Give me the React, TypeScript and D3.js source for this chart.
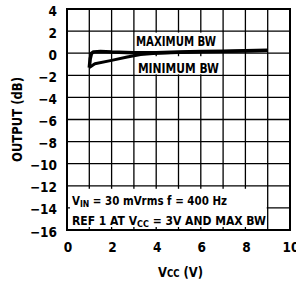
import React from "react";
import * as d3 from "d3";

const xTicks = [0, 2, 4, 6, 8, 10];
const yTicks = [4, 2, 0, -2, -4, -6, -8, -10, -12, -14, -16];
const maxBwV = [1.0, 1.04, 1.1, 1.2, 1.5, 2, 3, 4, 5, 6, 7, 8, 9];
const maxBwDb = [-1.3, -0.5, 0.0, 0.12, 0.15, 0.1, 0.05, 0.05, 0.1, 0.15, 0.18, 0.22, 0.27];
const minBwV = [1.0, 1.25, 2, 2.7, 3.3, 4, 5, 6, 7, 8, 9];
const minBwDb = [-1.3, -0.95, -0.65, -0.35, -0.12, 0.0, 0.07, 0.12, 0.16, 0.2, 0.25];

const FONT = "'Liberation Sans Narrow', 'DejaVu Sans Condensed', 'Liberation Sans', sans-serif";

export default function App() {
  const W = 296, H = 282;
  const x = d3.scaleLinear().domain([0, 10]).range([67, 290]);
  const y = d3.scaleLinear().domain([-16, 4]).range([230, 9]);
  const line = d3.line<[number, number]>().x(d => x(d[0])).y(d => y(d[1]));
  const maxPts: [number, number][] = maxBwV.map((v, i) => [v, maxBwDb[i]]);
  const minPts: [number, number][] = minBwV.map((v, i) => [v, minBwDb[i]]);
  const gridX = d3.range(0, 11, 1);
  const gridY = d3.range(-16, 5, 2);
  return (
    <svg width={W} height={H} style={{ position: "absolute", left: 0, top: 0, background: "#fff" }}>
      <rect x={0} y={0} width={W} height={H} fill="#fff" />
      {gridX.map(v => (
        <line key={"gx" + v} x1={x(v)} x2={x(v)} y1={y(4)} y2={y(-16)} stroke="#000" strokeWidth={1.3} />
      ))}
      {gridY.map(v => (
        <line key={"gy" + v} x1={x(0)} x2={x(10)} y1={y(v)} y2={y(v)} stroke="#000" strokeWidth={1.3} />
      ))}
      <rect x={x(0) + 3} y={y(-12) + 3} width={x(9) - x(0) - 4} height={y(-16) - y(-12) - 6} fill="#fff" />
      <rect x={x(3) + 1} y={y(2) + 1.5} width={x(7) - x(3) - 2} height={y(0) - y(2) - 3} fill="#fff" />
      <rect x={x(3) + 1} y={y(0) + 3} width={x(7) - x(3) - 2} height={y(-2) - y(0) - 4} fill="#fff" />
      <rect x={x(0)} y={y(4)} width={x(10) - x(0)} height={y(-16) - y(4)} fill="none" stroke="#000" strokeWidth={2} />
      <path d={line(minPts) || ""} fill="none" stroke="#000" strokeWidth={3} strokeLinejoin="round" />
      <path d={line(maxPts) || ""} fill="none" stroke="#000" strokeWidth={3.5} strokeLinejoin="round" />
      <g fontFamily={FONT} fontWeight="bold" fill="#000">
        <text x={x(3) + 2} y={y(0) - 7} fontSize={14} textLength={80} lengthAdjust="spacingAndGlyphs">MAXIMUM BW</text>
        <text x={x(3) + 4} y={y(-2) - 2.5} fontSize={14} textLength={81} lengthAdjust="spacingAndGlyphs">MINIMUM BW</text>
        {yTicks.map(v => (
          <text key={"yt" + v} x={57} y={y(v) + 6.5} fontSize={13.5} textAnchor="end">
            {v < 0 ? "\u2212" + Math.abs(v) : String(v)}
          </text>
        ))}
        {xTicks.map(v => (
          <text key={"xt" + v} x={x(v) + 1} y={252} fontSize={13.5} textAnchor="middle">{v}</text>
        ))}
        <text x={158} y={277} fontSize={13.5} textLength={45} lengthAdjust="spacingAndGlyphs">
          V<tspan fontSize={10}>CC</tspan> (V)
        </text>
        <text transform={`translate(22, ${(y(4) + y(-16)) / 2}) rotate(-90)`} fontSize={13.5} textAnchor="middle" textLength={85} lengthAdjust="spacingAndGlyphs">
          OUTPUT (dB)
        </text>
        <text x={72} y={205} fontSize={12} textLength={155} lengthAdjust="spacingAndGlyphs">
          V<tspan fontSize={9} dy={2}>IN</tspan><tspan dy={-2}> = 30 mVrms f = 400 Hz</tspan>
        </text>
        <text x={72} y={225} fontSize={12}>
          REF 1 AT V<tspan fontSize={9} dy={2}>CC</tspan><tspan dy={-2}> = 3V AND MAX BW</tspan>
        </text>
      </g>
    </svg>
  );
}
